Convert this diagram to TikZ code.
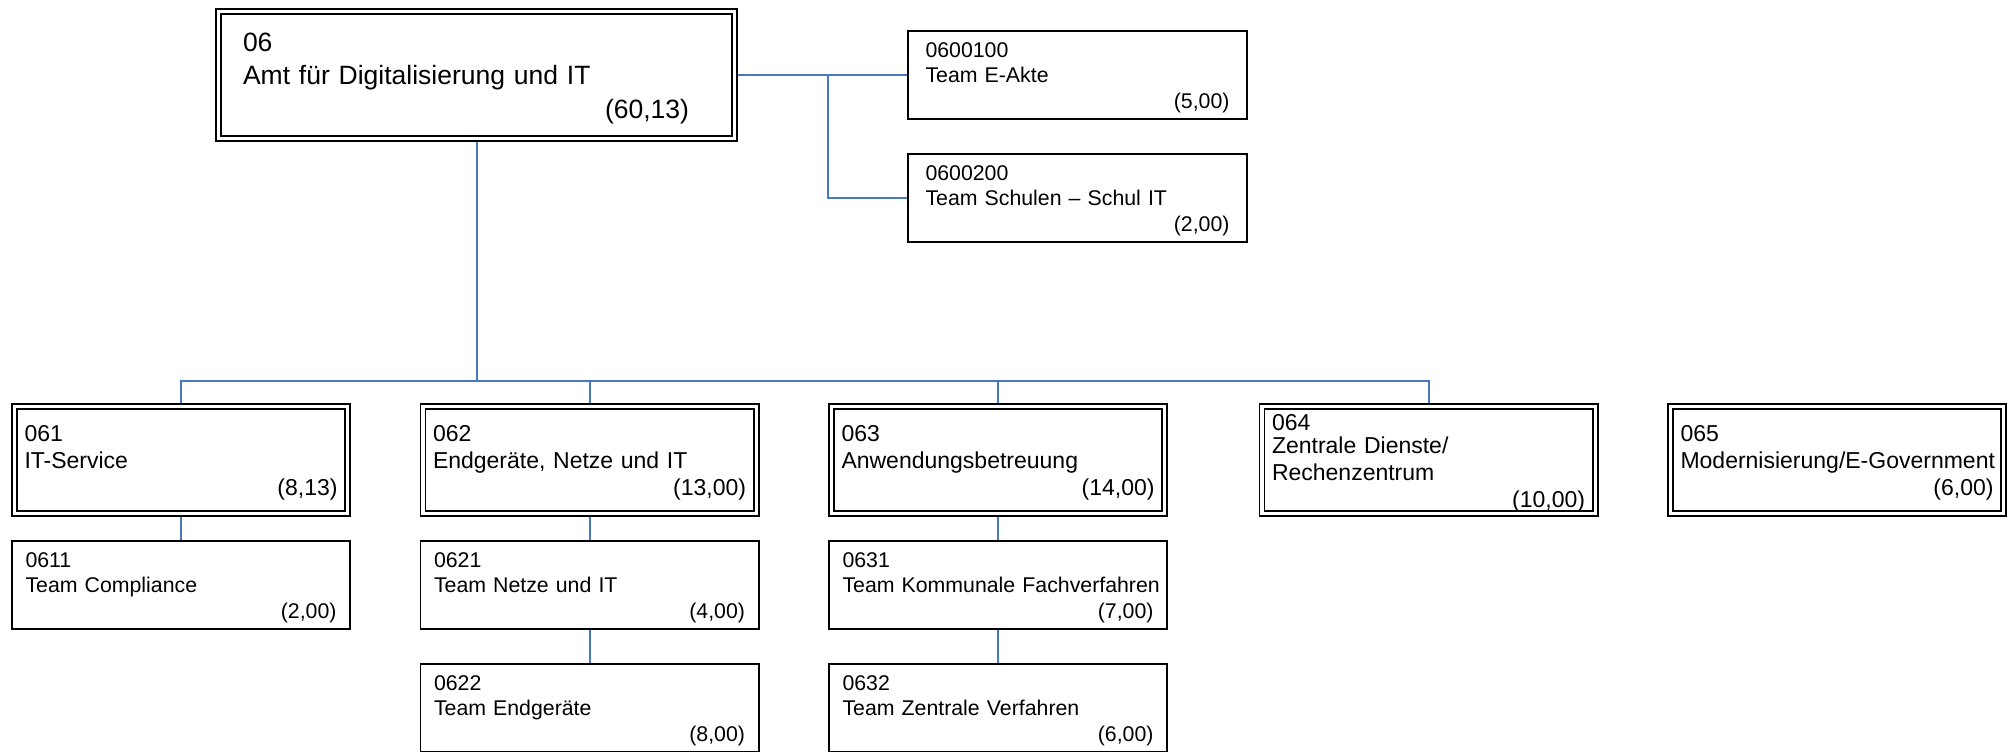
\documentclass[tikz,border=0pt]{standalone}
\usepackage{fontspec}
\setmainfont{Liberation Sans}
\usetikzlibrary{positioning}
\definecolor{linkblue}{RGB}{70,120,198}
\begin{document}
\begin{tikzpicture}[x=1pt, y=-1pt, every node/.style={inner sep=0pt, font=\fontsize{21.3}{25.5}\selectfont},
    unit/.style={draw, double, double distance=3.4pt, line width=1.6pt, outer sep=3.3pt, minimum width=333.4pt, minimum height=107.4pt, text width=313pt, font=\fontsize{23}{27}\selectfont, execute at begin node={\rule{0pt}{22.5pt}}},
    team/.style={draw, line width=1.6pt, outer sep=0.8pt, minimum width=338.4pt, minimum height=88.4pt, text width=311pt, execute at begin node={\rule{0pt}{20pt}}},
    link/.style={draw=linkblue, line width=2pt}]
\useasboundingbox (0,0) rectangle (2013,752);
% Amt
\node[unit, minimum width=516.4pt, minimum height=127.4pt, text width=467pt, font=\fontsize{26.5}{32.5}\selectfont] (b06) at (476.5,75) {\rule{0pt}{25.5pt}06\\Amt für Digitalisierung und IT\\[2pt]\hspace*{\fill}(60,13)\hspace*{21pt}\mbox{}};
% Stabsstellen
\node[team, minimum width=339.4pt, text width=304pt] (b0600100) at (1077.5,75) {0600100\\Team E-Akte\\\hspace*{\fill}(5,00)};
\node[team, minimum width=339.4pt, text width=304pt, below=33pt of b0600100] (b0600200) {0600200\\Team Schulen – Schul IT\\\hspace*{\fill}(2,00)};
% Abteilungen
\node[unit] (b061) at (181,460) {061\\IT-Service\\\hspace*{\fill}(8,13)};
\node[unit] (b062) at (589.5,460) {062\\Endgeräte, Netze und IT\\\hspace*{\fill}(13,00)};
\node[unit] (b063) at (998,460) {063\\Anwendungsbetreuung\\\hspace*{\fill}(14,00)};
\node[unit] (b064) at (1428.5,460) {064\\[-4pt]Zentrale Dienste/\\Rechenzentrum\\\hspace*{\fill}(10,00)};
\node[unit] (b065) at (1837,460) {065\\\mbox{Modernisierung/E-Government}\\\hspace*{\fill}(6,00)};
% Teams
\node[team, below=23pt of b061] (b0611) {0611\\Team Compliance\\\hspace*{\fill}(2,00)};
\node[team, below=23pt of b062] (b0621) {0621\\Team Netze und IT\\\hspace*{\fill}(4,00)};
\node[team, below=33pt of b0621] (b0622) {0622\\Team Endgeräte\\\hspace*{\fill}(8,00)};
\node[team, below=23pt of b063] (b0631) {0631\\\mbox{Team Kommunale Fachverfahren}\\\hspace*{\fill}(7,00)};
\node[team, below=33pt of b0631] (b0632) {0632\\Team Zentrale Verfahren\\\hspace*{\fill}(6,00)};
% Linien
\coordinate (fork) at (828,75);
\coordinate (bus) at (476.5,381);
\draw[link] (b06.east) -- (b0600100.west);
\draw[link] (fork) |- (b0600200.west);
\draw[link] (b06.south) -- (bus);
\draw[link] (b061.north) |- (bus) -| (b064.north);
\draw[link] (bus) -| (b062.north);
\draw[link] (bus) -| (b063.north);
\draw[link] (b061.south) -- (b0611.north);
\draw[link] (b062.south) -- (b0621.north);
\draw[link] (b0621.south) -- (b0622.north);
\draw[link] (b063.south) -- (b0631.north);
\draw[link] (b0631.south) -- (b0632.north);
\end{tikzpicture}
\end{document}
